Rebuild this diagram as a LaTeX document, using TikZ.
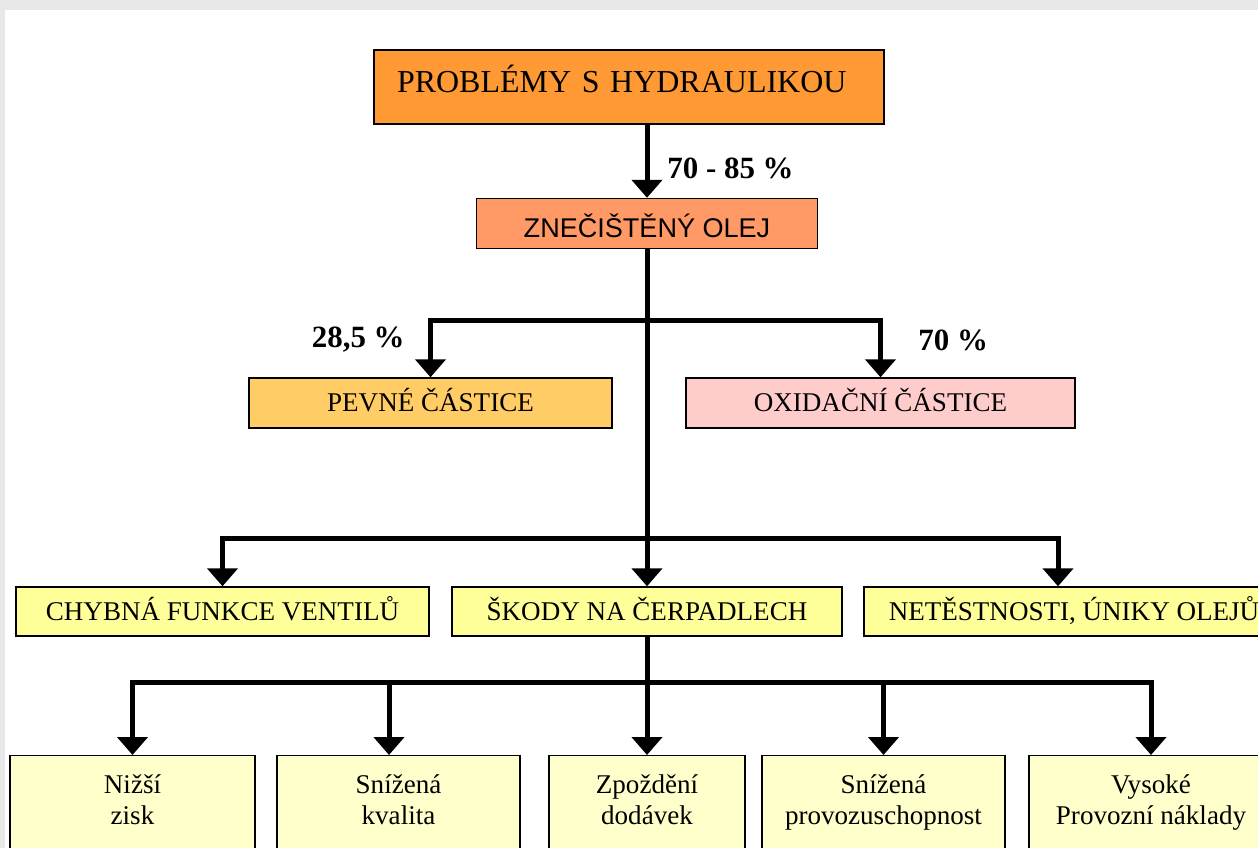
\documentclass[tikz,border=0pt]{standalone}
\usepackage{fontspec}
\setmainfont{Liberation Serif}
\setsansfont{Liberation Sans}
\usetikzlibrary{arrows.meta,positioning}

\definecolor{seda}{HTML}{E8E8E8}
\definecolor{oranzova}{HTML}{FF9933}
\definecolor{losos}{HTML}{FF9966}
\definecolor{okrova}{HTML}{FFCC66}
\definecolor{ruzova}{HTML}{FFCCCC}
\definecolor{zluta}{HTML}{FFFF99}
\definecolor{svetla}{HTML}{FFFFCC}

\begin{document}
\begin{tikzpicture}[x=0.02cm,y=-0.02cm,
	box/.style={draw,line width=0.8pt,inner sep=0pt,minimum height=1cm,text height=10.2pt,text depth=0pt,font=\fontsize{15.4}{17.6}\selectfont},
	dolni/.style={draw,line width=0.8pt,fill=svetla,inner sep=0pt,anchor=north,minimum height=3cm},
	popis/.style={inner sep=0pt,anchor=north,align=center,font=\fontsize{15.4}{17.6}\selectfont},
	pct/.style={inner sep=0pt,font=\fontsize{17.6}{20}\selectfont\bfseries},
	sip/.style={line width=0.1cm,-{Triangle[length=0.36cm,width=0.6cm]}}]
	\useasboundingbox (0,0) rectangle (1258,848);
	\fill[seda] (0,0) rectangle (1258,848);
	\fill[white] (5,10) rectangle (1258,848);
	\clip (5,10) rectangle (1258,848);

	\node[box,fill=oranzova,inner xsep=0.46cm,text width=9.28cm,align=left,minimum height=1.48cm,text height=12.05pt,text depth=5.6pt,font=\fontsize{18.2}{20}\selectfont] (prob) at (629,87) {PROBLÉMY S HYDRAULIKOU};
	\node[box,fill=losos,minimum width=6.82cm,text height=15.4pt,font=\sffamily\fontsize{15.4}{17.6}\selectfont] (olej) at (647,223.5) {ZNEČIŠTĚNÝ OLEJ};
	\node[box,fill=okrova,minimum width=7.26cm] (pevne) at (430.5,403) {PEVNÉ ČÁSTICE};
	\node[box,fill=ruzova,minimum width=7.78cm] (oxid) at (880.5,403) {OXIDAČNÍ ČÁSTICE};
	\node[box,fill=zluta,minimum width=8.26cm,minimum height=0.98cm] (chyb) at (222.5,611.5) {CHYBNÁ FUNKCE VENTILŮ};
	\node[box,fill=zluta,minimum width=7.8cm,minimum height=0.98cm] (skody) at (647,611.5) {ŠKODY NA ČERPADLECH};
	\node[box,fill=zluta,minimum width=8.4cm,minimum height=0.98cm] (netes) at (1074,611.5) {NETĚSTNOSTI, ÚNIKY OLEJŮ};

	\foreach \x/\w/\jm/\txt in {132.5/4.9/zisk/{Nižší\\zisk}, 398.5/4.86/kval/{Snížená\\kvalita}, 647/3.92/zpoz/{Zpoždění\\dodávek}, 883.5/4.86/prov/{Snížená\\provozuschopnost}, 1151/4.88/vys/{Vysoké\\Provozní náklady}}
	{
		\node[dolni,minimum width=\w cm] (\jm) at (\x,755) {};
		\node[popis] (\jm-t) at (\x,774) {\txt};
	}

	\coordinate (rozv1) at (647,320);
	\coordinate (rozv2) at (647,538);
	\coordinate (rozv3) at (647,682);
	\coordinate (kvalIn) at ([xshift=-0.19cm]kval.north);
	\coordinate (netesIn) at ([xshift=-0.32cm]netes.north);

	\draw[sip] (olej.north |- prob.south) -- (olej.north);
	\draw[line width=0.1cm] (olej.south) -- (rozv2);
	\draw[line width=0.1cm] (skody.south) -- (rozv3);
	\draw[sip] (rozv1) -| (pevne.north);
	\draw[sip] (rozv1) -| (oxid.north);
	\draw[sip] (rozv2) -| (chyb.north);
	\draw[sip] (rozv2) -- (skody.north);
	\draw[sip] (rozv2) -| (netesIn);
	\draw[sip] (rozv3) -| (zisk.north);
	\draw[sip] (rozv3) -| (kvalIn);
	\draw[sip] (rozv3) -- (zpoz.north);
	\draw[sip] (rozv3) -| (prov.north);
	\draw[sip] (rozv3) -| (vys.north);

	\node[pct,anchor=west] (p1) at (667,168) {70 - 85 \%};
	\node[pct,anchor=east] (p2) at (405,340) {28,5 \%};
	\node[pct,anchor=west] (p3) at (918,340) {70 \%};
\end{tikzpicture}
\end{document}
